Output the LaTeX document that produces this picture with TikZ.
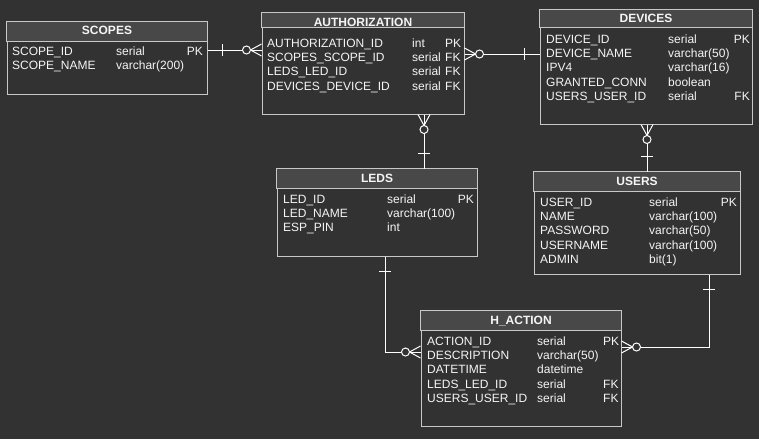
\documentclass[tikz,border=0pt]{standalone}
\usepackage{fontspec}
\setmainfont{Liberation Sans}
\usetikzlibrary{decorations.markings}
\definecolor{bgc}{RGB}{50,50,50}
\definecolor{hdr}{RGB}{72,72,72}
\definecolor{brd}{RGB}{200,200,200}
\definecolor{txt}{RGB}{245,245,245}
\newcommand{\erow}[6]{%
  \node[rowtxt,anchor=base west] (#1n) at (#3,#2) {#4};
  \node[rowtxt,anchor=base west] (#1t) at (#5,#2) {#6};}
\begin{document}
\begin{tikzpicture}[x=1pt,y=-1pt,
  ebox/.style={draw=brd,line width=1pt,inner sep=0pt},
  hline/.style={draw=brd,line width=1pt,fill=hdr},
  rowtxt/.style={text=txt,inner sep=0pt,font=\fontsize{12}{14}\selectfont},
  ttl/.style={text=txt,inner sep=0pt,anchor=base,font=\fontsize{12}{14}\selectfont\bfseries},
  conn/.style={draw=white,line width=1pt},
  manyzero/.style={postaction={decorate,decoration={markings,
     mark=at position 11pt with {\draw[white,line width=1pt] (0,0) -- (-11pt,6pt); \draw[white,line width=1pt] (0,0) -- (-11pt,-6pt);},
     mark=at position 15pt with {\draw[white,line width=1pt,fill=bgc] (0,0) circle[radius=4pt];}}}},
  onebar/.style={postaction={decorate,decoration={markings,
     mark=at position -15pt with {\draw[white,line width=1pt] (0,-6pt) -- (0,6pt);}}}}
]
\fill[bgc] (0,0) rectangle (759,439);
\useasboundingbox (0,0) rectangle (759,439);

% boxes
\node[ebox,minimum width=200pt,minimum height=72pt] (scopes) at (107,58) {};
\draw[hline] (scopes.north west) rectangle ([yshift=-20pt]scopes.north east);
\node[ebox,minimum width=202pt,minimum height=101pt] (auth) at (363,63.5) {};
\draw[hline] (auth.north west) rectangle ([yshift=-15pt]auth.north east);
\node[ebox,minimum width=212pt,minimum height=114.5pt] (devices) at (646,66.75) {};
\draw[hline] (devices.north west) rectangle ([yshift=-18.5pt]devices.north east);
\node[ebox,minimum width=200pt,minimum height=87pt] (leds) at (377,212.5) {};
\draw[hline] (leds.north west) rectangle ([yshift=-20pt]leds.north east);
\node[ebox,minimum width=206pt,minimum height=102pt] (users) at (637,223) {};
\draw[hline] (users.north west) rectangle ([yshift=-20pt]users.north east);
\node[ebox,minimum width=200pt,minimum height=115pt] (haction) at (521,368.5) {};
\draw[hline] (haction.north west) rectangle ([yshift=-20pt]haction.north east);

% titles
\node[ttl] (scopesT) at (107,34) {SCOPES};
\node[ttl] (authT) at (363,26) {AUTHORIZATION};
\node[ttl] (devicesT) at (646,22) {DEVICES};
\node[ttl] (ledsT) at (377,182) {LEDS};
\node[ttl] (usersT) at (637,185) {USERS};
\node[ttl] (hactionT) at (521,324) {H\_ACTION};

% SCOPES rows
\erow{sa}{55}{12}{SCOPE\_ID}{116}{serial}
\erow{sb}{69}{12}{SCOPE\_NAME}{116}{varchar(200)}
\node[rowtxt,anchor=base east] (sak) at (203,55) {PK};

% AUTHORIZATION rows
\erow{aa}{47}{267}{AUTHORIZATION\_ID}{412}{int}
\erow{ab}{61.4}{267}{SCOPES\_SCOPE\_ID}{412}{serial}
\erow{ac}{75.8}{267}{LEDS\_LED\_ID}{412}{serial}
\erow{ad}{90.2}{267}{DEVICES\_DEVICE\_ID}{412}{serial}
\node[rowtxt,anchor=base west] (aak) at (445,47) {PK};
\node[rowtxt,anchor=base west] (abk) at (445,61.4) {FK};
\node[rowtxt,anchor=base west] (ack) at (445,75.8) {FK};
\node[rowtxt,anchor=base west] (adk) at (445,90.2) {FK};

% DEVICES rows
\erow{da}{43}{546}{DEVICE\_ID}{668}{serial}
\erow{db}{57.4}{546}{DEVICE\_NAME}{668}{varchar(50)}
\erow{dc}{71.8}{546}{IPV4}{668}{varchar(16)}
\erow{dd}{86.2}{546}{GRANTED\_CONN}{668}{boolean}
\erow{de}{100.6}{546}{USERS\_USER\_ID}{668}{serial}
\node[rowtxt,anchor=base east] (dak) at (750,43) {PK};
\node[rowtxt,anchor=base east] (dek) at (750,100.6) {FK};

% LEDS rows
\erow{la}{203}{283}{LED\_ID}{387}{serial}
\erow{lb}{217.4}{283}{LED\_NAME}{387}{varchar(100)}
\erow{lc}{231.8}{283}{ESP\_PIN}{387}{int}
\node[rowtxt,anchor=base east] (lak) at (474,203) {PK};

% USERS rows
\erow{ua}{206}{540}{USER\_ID}{649}{serial}
\erow{ub}{220.4}{540}{NAME}{649}{varchar(100)}
\erow{uc}{234.8}{540}{PASSWORD}{649}{varchar(50)}
\erow{ud}{249.2}{540}{USERNAME}{649}{varchar(100)}
\erow{ue}{263.6}{540}{ADMIN}{649}{bit(1)}
\node[rowtxt,anchor=base east] (uak) at (737,206) {PK};

% H_ACTION rows
\erow{ha}{345}{427}{ACTION\_ID}{537}{serial}
\erow{hb}{359.4}{427}{DESCRIPTION}{537}{varchar(50)}
\erow{hc}{373.8}{427}{DATETIME}{537}{datetime}
\erow{hd}{388.2}{427}{LEDS\_LED\_ID}{537}{serial}
\erow{he}{402.6}{427}{USERS\_USER\_ID}{537}{serial}
\node[rowtxt,anchor=base west] (hak) at (603,345) {PK};
\node[rowtxt,anchor=base west] (hdk) at (603,388.2) {FK};
\node[rowtxt,anchor=base west] (hek) at (603,402.6) {FK};

% connector end points
\coordinate (c1a) at (auth.west |- 0,50);
\coordinate (c1b) at (scopes.east |- 0,50);
\coordinate (c2a) at (auth.east |- 0,54);
\coordinate (c2b) at (devices.west |- 0,54);
\coordinate (c3a) at (auth.south -| 424,0);
\coordinate (c3b) at (leds.north -| 424,0);
\coordinate (c4a) at (devices.south -| 647,0);
\coordinate (c4b) at (users.north -| 647,0);
\coordinate (c5a) at (haction.west |- 0,352);
\coordinate (c5b) at (leds.south -| 385,0);
\coordinate (c6a) at (haction.east |- 0,347);
\coordinate (c6b) at (users.south -| 709,0);

% connectors
\draw[conn,manyzero,onebar] (c1a) -- (c1b);
\draw[conn,manyzero,onebar] (c2a) -- (c2b);
\draw[conn,manyzero,onebar] (c3a) -- (c3b);
\draw[conn,manyzero,onebar] (c4a) -- (c4b);
\draw[conn,manyzero,onebar] (c5a) -| (c5b);
\draw[conn,manyzero,onebar] (c6a) -| (c6b);
\end{tikzpicture}
\end{document}
